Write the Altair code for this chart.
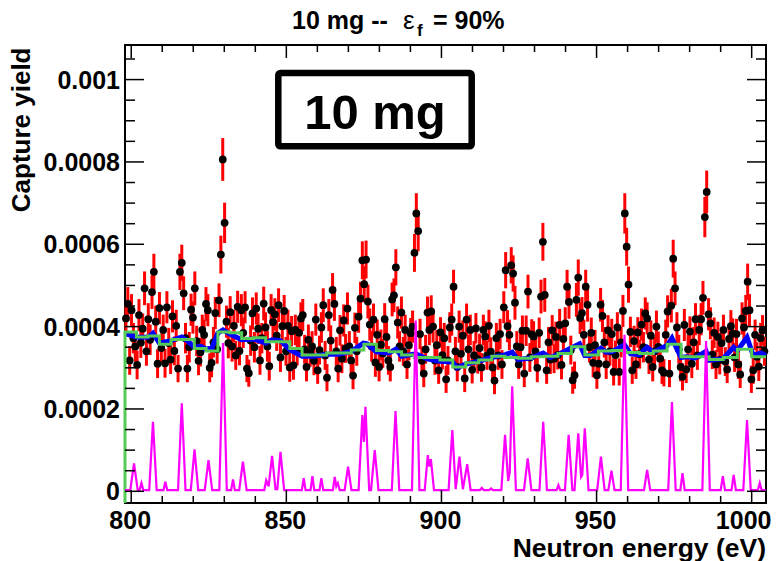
import altair as alt
import numpy as np
import pandas as pd

# ---------------- data (yields in units of 1e-6) ----------------
# measured capture yield, one point every 0.6 eV starting at 798.3 eV
x_start, x_step = 798.3, 0.6
yield_vals = [
    420, 455, 318, 440, 372, 352, 307, 428, 361, 395,
    493, 340, 418, 368, 484, 533, 412, 310, 445, 348,
    392, 311, 447, 360, 320, 425, 341, 402, 298, 533,
    555, 481, 372, 298, 350, 441, 422, 493, 365, 317,
    338, 392, 380, 455, 440, 300, 312, 362, 433, 345,
    464, 575, 806, 652, 412, 360, 435, 352, 402, 330,
    448, 341, 440, 385, 447, 298, 287, 366, 432, 350,
    444, 395, 318, 372, 456, 398, 352, 304, 440, 411,
    430, 378, 452, 325, 401, 438, 340, 402, 301, 389,
    306, 392, 341, 385, 420, 428, 345, 302, 368, 338,
    352, 317, 417, 294, 343, 398, 452, 330, 276, 428,
    366, 489, 455, 340, 298, 391, 322, 415, 347, 444,
    352, 318, 281, 397, 340, 424, 468, 561, 503, 563,
    461, 405, 352, 417, 313, 380, 302, 356, 335, 418,
    375, 318, 302, 466, 476, 544, 410, 352, 434, 340,
    392, 308, 355, 384, 400, 579, 675, 632, 382, 317,
    286, 345, 434, 392, 437, 400, 318, 355, 294, 386,
    331, 372, 272, 318, 398, 417, 497, 340, 302, 400,
    334, 378, 274, 417, 345, 392, 295, 330, 396, 321,
    348, 301, 392, 376, 330, 402, 339, 301, 269, 372,
    330, 382, 308, 447, 537, 401, 380, 549, 529, 458,
    352, 308, 350, 390, 286, 390, 485, 325, 381, 376,
    340, 300, 385, 473, 606, 477, 294, 362, 320, 391,
    322, 375, 331, 404, 307, 370, 408, 497, 460, 343,
    270, 282, 465, 519, 421, 433, 380, 497, 453, 350,
    385, 312, 355, 282, 310, 453, 426, 362, 308, 391,
    340, 382, 290, 331, 398, 290, 362, 438, 675, 594,
    502, 387, 294, 365, 308, 386, 333, 405, 350, 432,
    420, 320, 378, 302, 340, 400, 351, 322, 294, 288,
    380, 437, 286, 451, 565, 493, 398, 345, 302, 278,
    404, 296, 345, 388, 310, 362, 418, 330, 392, 418,
    470, 666, 727, 430, 408, 332, 385, 308, 375, 319,
    360, 392, 315, 296, 370, 401, 383, 325, 382, 308,
    284, 420, 398, 438, 509, 440, 272, 294, 380, 327,
    303, 372, 391, 340,
]
yield_errs = [
    39, 41, 35, 39, 37, 37, 35, 39, 37, 37,
    41, 35, 39, 37, 41, 44, 39, 35, 39, 35,
    37, 35, 39, 37, 35, 39, 35, 39, 33, 44,
    44, 41, 37, 33, 37, 39, 39, 41, 37, 35,
    35, 37, 37, 41, 39, 35, 35, 37, 39, 35,
    41, 46, 52, 49, 39, 37, 39, 37, 39, 35,
    39, 35, 39, 37, 39, 33, 33, 37, 39, 37,
    39, 37, 35, 37, 41, 37, 37, 35, 39, 39,
    39, 37, 41, 35, 39, 39, 35, 39, 35, 37,
    35, 37, 35, 37, 39, 39, 35, 35, 37, 35,
    37, 35, 39, 33, 35, 37, 41, 35, 33, 39,
    37, 41, 41, 35, 33, 37, 35, 39, 35, 39,
    37, 35, 33, 37, 35, 39, 41, 46, 44, 46,
    41, 39, 37, 39, 35, 37, 35, 37, 35, 39,
    37, 35, 35, 41, 41, 44, 39, 37, 39, 35,
    37, 35, 37, 37, 39, 46, 49, 49, 37, 35,
    33, 35, 39, 37, 39, 39, 35, 37, 33, 37,
    35, 37, 33, 35, 37, 39, 41, 35, 35, 39,
    35, 37, 33, 39, 35, 37, 33, 35, 37, 35,
    35, 35, 37, 37, 35, 39, 35, 35, 33, 37,
    35, 37, 35, 39, 44, 39, 37, 44, 44, 41,
    37, 35, 37, 37, 33, 37, 41, 35, 37, 37,
    35, 35, 37, 41, 46, 41, 33, 37, 35, 37,
    35, 37, 35, 39, 35, 37, 39, 41, 41, 35,
    33, 33, 41, 44, 39, 39, 37, 41, 41, 37,
    37, 35, 37, 33, 35, 41, 39, 37, 35, 37,
    35, 37, 33, 35, 37, 33, 37, 39, 49, 46,
    44, 37, 33, 37, 35, 37, 35, 39, 37, 39,
    39, 35, 37, 35, 35, 39, 37, 35, 33, 33,
    37, 39, 33, 41, 46, 41, 37, 35, 35, 33,
    39, 33, 35, 37, 35, 37, 39, 35, 37, 39,
    41, 49, 52, 39, 39, 35, 37, 35, 37, 35,
    37, 37, 35, 33, 37, 39, 37, 35, 37, 35,
    33, 39, 37, 39, 44, 39, 33, 33, 37, 35,
    35, 37, 37, 35,
]

# green histogram: 500 bins per decade, first bin edge at 10^(1451/500)
green_vals = [
    387, 375, 377, 357, 369, 369, 347, 341, 387, 385,
    371, 373, 363, 363, 347, 331, 331, 336, 336, 343,
    357, 342, 339, 331, 325, 325, 319, 302, 312, 319,
    328, 325, 323, 327, 328, 335, 351, 331, 341, 342,
    337, 335, 341, 357, 327, 327, 320, 325, 345, 327,
]

# blue curve (energy eV, yield 1e-6)
blue_curve = [
    (798.0, 383), (801.7, 375), (805.4, 374), (807.0, 384), (809.1, 360), (812.8, 366),
    (816.3, 375), (818.0, 366), (820.4, 350), (822.5, 352), (824.1, 345), (826.0, 348),
    (827.9, 384), (829.6, 392), (831.8, 382), (835.6, 368), (839.5, 370), (843.3, 360),
    (845.4, 368), (848.1, 366), (851.1, 344), (855.1, 328), (859.0, 328), (863.0, 333),
    (867.0, 333), (871.0, 340), (874.8, 360), (876.0, 358), (879.0, 339), (883.1, 336),
    (885.3, 345), (887.2, 328), (891.7, 334), (895.4, 322), (899.5, 316), (903.6, 314),
    (905.0, 300), (907.8, 309), (912.0, 316), (916.2, 325), (920.6, 332), (922.8, 338),
    (924.7, 320), (929.0, 324), (932.8, 336), (935.0, 325), (937.6, 332), (941.0, 345),
    (944.5, 358), (946.2, 330), (948.0, 330), (951.4, 348), (953.0, 338), (955.0, 339),
    (959.0, 356), (961.0, 334), (963.8, 332), (966.3, 350), (968.3, 338), (972.7, 354),
    (974.3, 372), (977.2, 325), (979.0, 327), (981.8, 324), (985.3, 340), (986.3, 318),
    (990.8, 322), (994.2, 350), (995.4, 342), (998.5, 374), (1000.5, 330), (1003.0, 336),
    (1004.6, 330),
]

# magenta curve (energy eV, yield 1e-6)
magenta_curve = [
    (798.0, 3), (799.7, 3), (800.9, 68), (802.1, 3), (802.7, 3), (803.3, 20), (803.9, 3),
    (805.8, 3), (807.0, 169), (808.2, 3), (810.4, 3), (811.0, 23), (811.6, 3),
    (815.1, 3), (816.3, 214), (817.5, 3), (819.2, 3), (820.4, 102), (821.6, 3),
    (823.7, 3), (824.9, 76), (826.1, 3), (828.4, 3), (829.6, 360), (830.8, 3),
    (832.2, 3), (832.8, 29), (833.4, 3), (834.8, 3), (836.0, 72), (837.2, 3),
    (842.9, 3), (843.5, 27), (844.3, 12), (845.4, 86), (846.5, 5), (847.1, 5), (848.1, 96), (849.3, 3),
    (855.0, 3), (855.6, 32), (856.2, 3), (857.8, 3), (858.4, 37), (859.0, 3),
    (860.7, 3), (861.3, 32), (861.9, 3), (865.0, 3), (865.6, 35), (866.1, 12), (866.6, 20), (867.2, 3),
    (868.8, 3), (869.9, 60), (871.0, 3), (873.3, 3), (874.5, 185), (875.0, 120), (875.5, 205), (876.7, 3),
    (877.3, 3), (878.5, 100), (879.7, 3), (884.0, 3), (885.2, 195), (886.4, 3),
    (890.5, 3), (891.7, 415), (892.9, 3), (894.6, 3), (895.6, 88), (896.1, 60), (896.6, 78), (897.6, 3),
    (902.3, 3), (903.5, 149), (904.6, 5), (905.8, 84), (906.9, 5), (908.3, 66), (909.4, 3),
    (912.4, 3), (913.0, 8), (913.6, 3), (915.4, 3), (916.0, 7), (916.6, 3),
    (919.3, 3), (920.5, 137), (921.5, 25), (922.0, 45), (922.8, 255), (924.0, 3),
    (926.6, 3), (927.8, 80), (929.0, 3), (931.6, 3), (932.8, 169), (934.0, 3),
    (937.1, 3), (937.7, 15), (938.3, 3), (939.8, 3), (941.0, 137), (942.2, 3),
    (942.9, 3), (944.1, 141), (945.0, 35), (945.4, 40), (946.2, 153), (947.4, 3),
    (950.2, 3), (951.4, 84), (952.6, 3), (953.8, 3), (954.8, 50), (955.8, 3),
    (957.8, 3), (959.0, 380), (960.2, 3), (965.3, 3), (966.3, 52), (967.3, 3),
    (973.1, 3), (974.3, 217), (975.5, 3), (977.0, 3), (977.7, 44), (978.4, 3),
    (984.1, 3), (985.3, 365), (986.5, 3), (990.0, 3), (990.7, 37), (991.4, 3),
    (993.5, 3), (994.2, 40), (994.9, 3), (997.3, 3), (998.5, 173), (999.7, 3),
    (1002.0, 3), (1002.6, 20), (1003.2, 3), (1004.6, 3),
]

x_major = [800, 850, 900, 950, 1000]
x_major_labels = ["800", "850", "900", "950", "1000"]
x_minor = [810, 820, 830, 840, 860, 870, 880, 890, 910, 920, 930, 940,
           960, 970, 980, 990]
y_major = [0, 0.0002, 0.0004, 0.0006, 0.0008, 0.001]
y_major_labels = ["0", "0.0002", "0.0004", "0.0006", "0.0008", "0.001"]
y_minor = [0.00005, 0.0001, 0.00015, 0.00025, 0.0003, 0.00035, 0.00045, 0.0005,
           0.00055, 0.00065, 0.0007, 0.00075, 0.00085, 0.0009, 0.00095, 0.00105]

# ---------------- tables ----------------
U = 1e-6
edges = 10 ** (np.arange(1451, 1502) / 500.0)
XMIN, XMAX = float(edges[0]), float(edges[-1])
YMIN, YMAX = -28.4 * U, 1084 * U

n = len(yield_vals)
pts = pd.DataFrame({
    "E": x_start + x_step * np.arange(n),
    "y": np.array(yield_vals) * U,
    "lo": (np.array(yield_vals) - np.array(yield_errs)) * U,
    "hi": (np.array(yield_vals) + np.array(yield_errs)) * U,
})

g_E = [edges[0]] + list(edges[:-1]) + [edges[-1]]
g_y = [YMIN] + [v * U for v in green_vals] + [green_vals[-1] * U]
green_df = pd.DataFrame({"E": g_E, "y": g_y, "i": range(len(g_E))})

blue_df = pd.DataFrame({"E": [p[0] for p in blue_curve],
                        "y": [p[1] * U for p in blue_curve],
                        "i": range(len(blue_curve))})
mag_df = pd.DataFrame({"E": [p[0] for p in magenta_curve],
                       "y": [p[1] * U for p in magenta_curve],
                       "i": range(len(magenta_curve))})

W, H = 641, 458
FONT = "Liberation Sans"

xs = alt.Scale(domain=[XMIN, XMAX], nice=False, zero=False)
ys = alt.Scale(domain=[YMIN, YMAX], nice=False, zero=False)
X = alt.X("E:Q", scale=xs, axis=None)
Y = alt.Y("y:Q", scale=ys, axis=None)

one = pd.DataFrame({"a": [0]})

err = alt.Chart(pts).mark_rule(color="#ff0000", strokeWidth=3).encode(
    x=X, y=alt.Y("lo:Q", scale=ys, axis=None), y2="hi:Q")
dots = alt.Chart(pts).mark_circle(color="black", size=60, opacity=1).encode(x=X, y=Y)
blue = alt.Chart(blue_df).mark_line(color="#0000ff", strokeWidth=5).encode(
    x=X, y=Y, order="i:Q")
green = alt.Chart(green_df).mark_line(color="#55cc55", strokeWidth=3,
                                      interpolate="step-after").encode(
    x=X, y=Y, order="i:Q")
mag = alt.Chart(mag_df).mark_line(color="#ff00ff", strokeWidth=2.2, clip=True).encode(
    x=X, y=Y, order="i:Q")

xmaj = pd.DataFrame({"E": x_major})
xmin_df = pd.DataFrame({"E": x_minor})
ymaj = pd.DataFrame({"y": y_major})
ymin_df = pd.DataFrame({"y": y_minor})
tk = dict(color="black", strokeWidth=1.5)
ticks = [
    alt.Chart(xmaj).mark_rule(**tk).encode(x=X, y=alt.value(H), y2=alt.value(H - 13)),
    alt.Chart(xmaj).mark_rule(**tk).encode(x=X, y=alt.value(0), y2=alt.value(13)),
    alt.Chart(xmin_df).mark_rule(**tk).encode(x=X, y=alt.value(H), y2=alt.value(H - 7)),
    alt.Chart(xmin_df).mark_rule(**tk).encode(x=X, y=alt.value(0), y2=alt.value(7)),
    alt.Chart(ymaj).mark_rule(**tk).encode(y=Y, x=alt.value(0), x2=alt.value(19)),
    alt.Chart(ymaj).mark_rule(**tk).encode(y=Y, x=alt.value(W), x2=alt.value(W - 19)),
    alt.Chart(ymin_df).mark_rule(**tk).encode(y=Y, x=alt.value(0), x2=alt.value(10)),
    alt.Chart(ymin_df).mark_rule(**tk).encode(y=Y, x=alt.value(W), x2=alt.value(W - 10)),
]

lab_style = dict(font=FONT, fontWeight="bold", fontSize=25, color="black")
xl1 = alt.Chart(pd.DataFrame({"E": x_major[:-1], "lab": x_major_labels[:-1]})).mark_text(
    align="center", baseline="alphabetic", dx=-1, **lab_style).encode(
    x=X, y=alt.value(483.5), text="lab:N")
xl2 = alt.Chart(pd.DataFrame({"E": x_major[-1:], "lab": x_major_labels[-1:]})).mark_text(
    align="center", baseline="alphabetic", dx=-8, **lab_style).encode(
    x=X, y=alt.value(483.5), text="lab:N")
yl = alt.Chart(pd.DataFrame({"y": y_major, "lab": y_major_labels})).mark_text(
    align="right", baseline="middle", dy=1, **lab_style).encode(
    x=alt.value(-5), y=Y, text="lab:N")

xtitle = alt.Chart(one).mark_text(text="Neutron energy (eV)", align="right",
                                  baseline="alphabetic", font=FONT, fontWeight="bold",
                                  fontSize=26.5, color="black").encode(
    x=alt.value(W), y=alt.value(511.5))
ytitle = alt.Chart(one).mark_text(text="Capture yield", angle=270, align="right",
                                  baseline="alphabetic", font=FONT, fontWeight="bold",
                                  fontSize=26, color="black").encode(
    x=alt.value(-95.5), y=alt.value(2.5))

box = alt.Chart(one).mark_rect(fill="white", stroke="black", strokeWidth=6.5,
                               cornerRadius=2).encode(
    x=alt.value(153.3), x2=alt.value(346.7), y=alt.value(28), y2=alt.value(101.3))
boxtext = alt.Chart(one).mark_text(text="10 mg", align="center", baseline="alphabetic",
                                   font=FONT, fontWeight="bold", fontSize=49,
                                   color="black").encode(
    x=alt.value(250), y=alt.value(83.6))

t_style = dict(font=FONT, fontWeight="bold", fontSize=25, color="black",
               baseline="alphabetic", align="left")
t1 = alt.Chart(one).mark_text(text="10 mg --", **t_style).encode(
    x=alt.value(167), y=alt.value(-16.4))
t2 = alt.Chart(one).mark_text(text="ε", font=FONT, fontSize=26, color="black",
                              baseline="alphabetic", align="left").encode(
    x=alt.value(278), y=alt.value(-16.4))
t3 = alt.Chart(one).mark_text(text="f", font=FONT, fontWeight="bold", fontSize=17,
                              color="black", baseline="alphabetic", align="left").encode(
    x=alt.value(292), y=alt.value(-9))
t4 = alt.Chart(one).mark_text(text="= 90%", **t_style).encode(
    x=alt.value(308), y=alt.value(-16.4))

chart = alt.layer(
    err, dots, blue, green, mag, *ticks, xl1, xl2, yl, xtitle, ytitle,
    box, boxtext, t1, t2, t3, t4
).properties(
    width=W, height=H,
    autosize=alt.AutoSizeParams(type="none"),
    padding={"left": 125, "top": 45, "right": 18, "bottom": 58},
    background="white",
).configure_view(stroke="black", strokeWidth=2)

chart.save("out.html", embed_options={"renderer": "svg", "actions": False})
